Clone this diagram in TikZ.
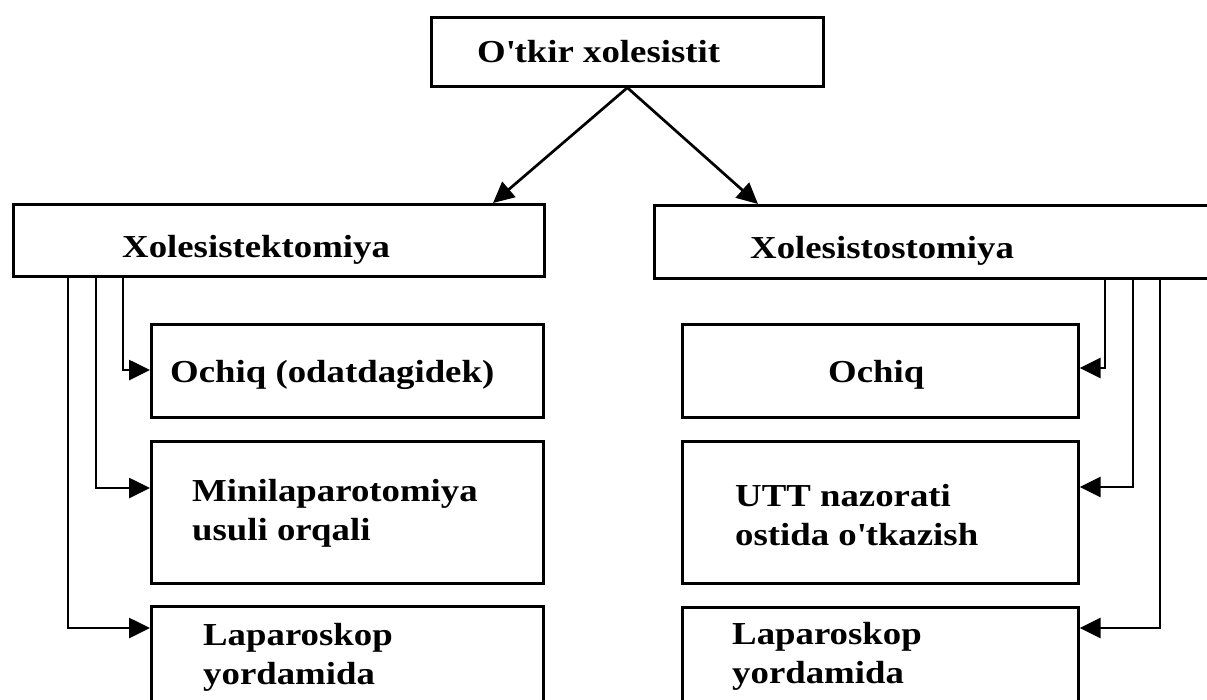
\documentclass[tikz,border=0pt]{standalone}
\usepackage{fontspec}
\setmainfont{Liberation Serif}[FakeStretch=1.15]
\usetikzlibrary{arrows.meta}

\tikzset{
  box/.style={draw, line width=2.7pt, anchor=north west, inner sep=0pt},
  lbl/.style={anchor=base west, inner sep=0pt, align=left,
    font=\fontsize{32}{39}\selectfont\bfseries},
  arr/.style={line width=2.7pt, -{Triangle[length=21pt,width=20pt]}}
}

\begin{document}
\begin{tikzpicture}[x=1pt, y=-1pt]

\clip (0,0) rectangle (1207,699);

\node [box, minimum width=392pt, minimum height=69pt] (top) at (430,16) {};
\node [box, minimum width=531pt, minimum height=72pt] (ltop) at (12,203) {};
\node [box, minimum width=600pt, minimum height=73pt] (rtop) at (653,204) {};

\node [box, minimum width=392pt, minimum height=93pt]  (l1) at (150,323) {};
\node [box, minimum width=392pt, minimum height=142pt] (l2) at (150,440) {};
\node [box, minimum width=392pt, minimum height=150pt] (l3) at (150,605) {};
\node [box, minimum width=396pt, minimum height=93pt]  (r1) at (681,323) {};
\node [box, minimum width=396pt, minimum height=142pt] (r2) at (681,440) {};
\node [box, minimum width=396pt, minimum height=150pt] (r3) at (681,606) {};

% base of a two-line label = baseline of its last line
\node [lbl] (ttop) at (477,62)  {O\textquotesingle tkir xolesistit};
\node [lbl] (tl)   at (122,257) {Xolesistektomiya};
\node [lbl] (tr)   at (750,258) {Xolesistostomiya};
\node [lbl] (tl1)  at (170,382) {Ochiq (odatdagidek)};
\node [lbl] (tl2)  at (192,540) {Minilaparotomiya\\usuli orqali};
\node [lbl] (tl3)  at (203,684) {Laparoskop\\yordamida};
\node [lbl] (tr1)  at (828,382) {Ochiq};
\node [lbl] (tr2)  at (735,545) {UTT nazorati\\ostida o\textquotesingle tkazish};
\node [lbl] (tr3)  at (732,683) {Laparoskop\\yordamida};

\draw [arr] (top.south) -- ([xshift=481pt]ltop.north west);
\draw [arr] (top.south) -- ([xshift=105pt]rtop.north west);

\draw [arr] ([xshift=111pt]ltop.south west) |- ([yshift=-47pt]l1.north west);
\draw [arr] ([xshift=84pt]ltop.south west)  |- ([yshift=-48pt]l2.north west);
\draw [arr] ([xshift=56pt]ltop.south west)  |- ([yshift=-23pt]l3.north west);

\draw [arr] ([xshift=452pt]rtop.south west) |- ([yshift=-45pt]r1.north east);
\draw [arr] ([xshift=480pt]rtop.south west) |- ([yshift=-47pt]r2.north east);
\draw [arr] ([xshift=507pt]rtop.south west) |- ([yshift=-22pt]r3.north east);

\end{tikzpicture}
\end{document}
